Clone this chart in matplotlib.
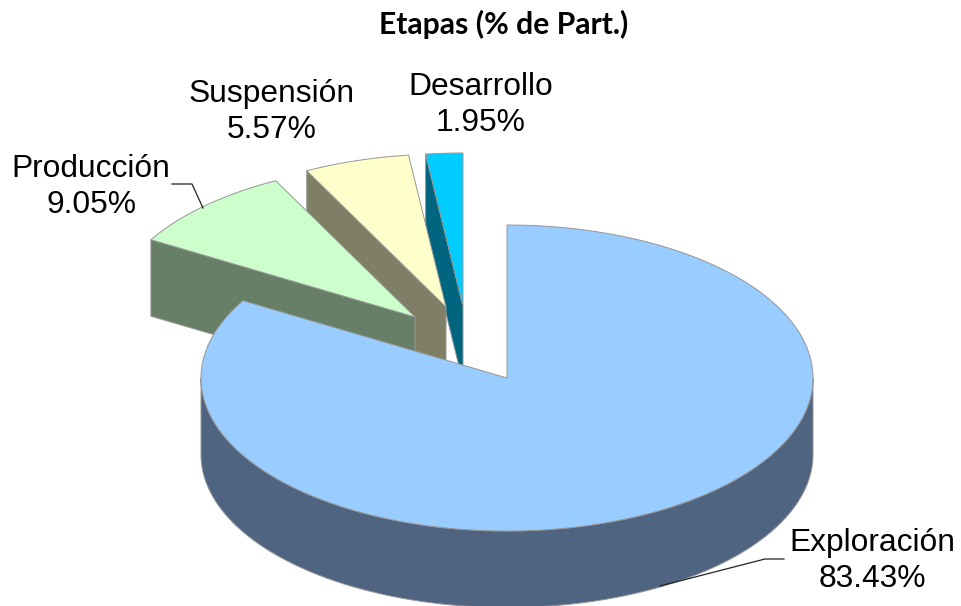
import numpy as np
import matplotlib
matplotlib.use("Agg")
import matplotlib.pyplot as plt
from matplotlib.patches import Polygon

# --- data ---
categories = ["Exploración", "Producción", "Suspensión", "Desarrollo"]
shares = [83.43, 9.05, 5.57, 1.95]
top_colors = ["#99CCFF", "#CCFFCC", "#FFFFCC", "#00CCFF"]
wall_colors = ["#4F6480", "#667F66", "#7F7F66", "#006680"]
title = "Etapas (% de Part.)"

# --- layout (pixels) ---
W, H = 961, 606
CX, CY, RX, RY, DEPTH = 507, 378, 306, 153, 76.5
offsets = {"Exploración": (0, 0), "Producción": (-92, -61),
           "Suspensión": (-61, -71), "Desarrollo": (-44, -72)}
label_pos = {"Exploración": (872, 561), "Producción": (91, 187),
             "Suspensión": (272, 112), "Desarrollo": (481, 105)}
EDGE = "#969696"
LW = 0.7

fig = plt.figure(figsize=(W / 100, H / 100), dpi=100)
ax = fig.add_axes([0, 0, 1, 1])
ax.set_xlim(0, W)
ax.set_ylim(H, 0)
ax.axis("off")


def rim(t0, t1, ox, oy, dz=0.0, n=200):
    t = np.radians(np.linspace(t0, t1, n))
    return np.column_stack([CX + ox + RX * np.sin(t), CY + oy + dz - RY * np.cos(t)])


def poly(pts, fc, z):
    ax.add_patch(Polygon(pts, closed=True, fc=fc, ec=EDGE, lw=LW, zorder=z, joinstyle="round"))


edges = np.concatenate([[0], np.cumsum(shares)]) * 3.6
spans = {c: (edges[i], edges[i + 1]) for i, c in enumerate(categories)}

# back-to-front: Desarrollo, Suspensión, Producción, Exploración
for z, cat in enumerate(reversed(categories)):
    i = categories.index(cat)
    t0, t1 = spans[cat]
    ox, oy = offsets[cat]
    apex = np.array([CX + ox, CY + oy])
    base = 2 * z + 1
    if cat == "Exploración":
        front = rim(90, 270, ox, oy)
        back = rim(270, 90, ox, oy, DEPTH)
        poly(np.vstack([front, back]), wall_colors[i], base)
    else:
        # radial wall from the leading edge (start of the slice) down by the depth
        p0 = rim(t0, t0, ox, oy, n=1)[0]
        poly(np.array([p0, p0 + [0, DEPTH], apex + [0, DEPTH], apex]), wall_colors[i], base)
    poly(np.vstack([[apex], rim(t0, t1, ox, oy)]), top_colors[i], base + 1)

# --- text ---
for cat, val in zip(categories, shares):
    x, y = label_pos[cat]
    ax.text(x, y, f"{cat}\n{val:.2f}%", ha="center", va="center", fontsize=22.9,
            family="Liberation Sans", color="black", linespacing=1.3, zorder=20)

ax.text(504, 24, title, ha="center", va="center", fontsize=21.7, family="Lato",
        fontweight="bold", color="black", zorder=20)

# leader lines
ax.plot([172, 192, 203], [184, 184, 208], color="#222222", lw=0.9, zorder=15)
ax.plot([784, 765, 660], [559, 559, 586], color="#222222", lw=0.9, zorder=15)

fig.savefig("out.png", dpi=100, facecolor="white")
